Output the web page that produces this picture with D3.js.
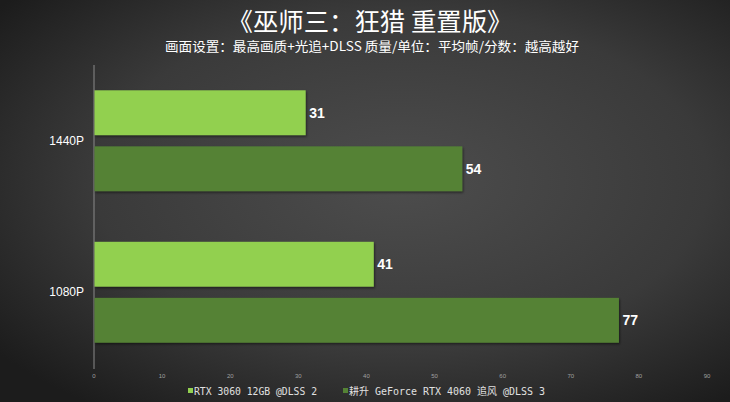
<!DOCTYPE html>
<html><head><meta charset="utf-8">
<script src="https://cdn.jsdelivr.net/npm/d3@7/dist/d3.min.js"></script>
<style>html,body{margin:0;padding:0;background:#2a2a2a;}svg{display:block;}</style>
</head><body><div id="chart"></div>
<script>
const categories = ["1440P", "1080P"];
const seriesNames = ["RTX 3060 12GB @DLSS 2", "耕升 GeForce RTX 4060 追风 @DLSS 3"];
const series1 = [31, 41];
const series2 = [54, 77];
const xTicks = [0, 10, 20, 30, 40, 50, 60, 70, 80, 90];
const title = "《巫师三：狂猎 重置版》";
const subtitle = "画面设置：最高画质+光追+DLSS 质量/单位：平均帧/分数：越高越好";
const colors = ["#92d050", "#548235"];

const W = 730, H = 402;
const svg = d3.select("#chart").append("svg").attr("width", W).attr("height", H);
const defs = svg.append("defs");
const bg = defs.append("radialGradient").attr("id", "bg").attr("cx", "55%").attr("cy", "45%").attr("r", "70%");
bg.append("stop").attr("offset", "0%").attr("stop-color", "#4d4d4d");
bg.append("stop").attr("offset", "60%").attr("stop-color", "#3a3a3a");
bg.append("stop").attr("offset", "100%").attr("stop-color", "#1c1c1c");
svg.append("rect").attr("width", W).attr("height", H).attr("fill", "url(#bg)");
const flt = defs.append("filter").attr("id", "sh").attr("x", "-5%").attr("y", "-20%").attr("width", "110%").attr("height", "140%");
flt.append("feDropShadow").attr("dx", 1).attr("dy", 1.5).attr("stdDeviation", 1.2).attr("flood-color", "#000").attr("flood-opacity", 0.5);

const cjk = "'Noto Sans CJK SC', 'Noto Sans', sans-serif";
svg.append("text").attr("x", 370).attr("y", 31).attr("text-anchor", "middle")
  .attr("font-family", cjk).attr("font-size", 25).attr("fill", "#ffffff")
  .attr("textLength", 285).attr("lengthAdjust", "spacingAndGlyphs").text(title);
svg.append("text").attr("x", 372).attr("y", 51).attr("text-anchor", "middle")
  .attr("font-family", cjk).attr("font-size", 13).attr("fill", "#ffffff")
  .attr("textLength", 414).attr("lengthAdjust", "spacingAndGlyphs").text(subtitle);

const x = d3.scaleLinear().domain([0, 90]).range([94, 707]);
const y = d3.scaleBand().domain(categories).range([65, 368]);
const inner = d3.scaleBand().domain([0, 1]).range([y.bandwidth() * 0.167, y.bandwidth() * 0.833]).paddingInner(0.2);

// axis line
svg.append("line").attr("x1", x(0)).attr("x2", x(0)).attr("y1", 65).attr("y2", 369)
  .attr("stroke", "#8a8a8a").attr("stroke-width", 1);

// x tick labels
svg.append("g").selectAll("text").data(xTicks).join("text")
  .attr("x", d => x(d)).attr("y", 378).attr("text-anchor", "middle")
  .attr("font-family", "Arial, 'Liberation Sans', sans-serif").attr("font-size", 6).attr("fill", "#a0a0a0")
  .text(d => d);

// category labels
svg.append("g").selectAll("text").data(categories).join("text")
  .attr("x", 84).attr("y", d => y(d) + y.bandwidth() / 2 + 4).attr("text-anchor", "end")
  .attr("font-family", "Arial, 'Liberation Sans', sans-serif").attr("font-size", 12).attr("fill", "#ffffff")
  .text(d => d);

const data = [series1, series2];
data.forEach((vals, si) => {
  const g = svg.append("g");
  g.selectAll("rect").data(vals).join("rect")
    .attr("x", x(0) + 0.5).attr("y", (d, i) => y(categories[i]) + inner(si))
    .attr("width", d => x(d) - x(0)).attr("height", inner.bandwidth())
    .attr("fill", colors[si]).attr("filter", "url(#sh)");
  g.selectAll("text").data(vals).join("text")
    .attr("x", d => x(d) + 4).attr("y", (d, i) => y(categories[i]) + inner(si) + inner.bandwidth() / 2 + 5)
    .attr("font-family", "Arial, 'Liberation Sans', sans-serif").attr("font-weight", "bold")
    .attr("font-size", 14).attr("fill", "#ffffff").text(d => d);
});

// legend
const legX = [188, 343];
const legW = [123, 196];
seriesNames.forEach((n, i) => {
  svg.append("rect").attr("x", legX[i]).attr("y", 388).attr("width", 5).attr("height", 5).attr("fill", colors[i]);
  svg.append("text").attr("x", legX[i] + 6).attr("y", 395)
    .attr("font-family", "'DejaVu Sans Mono', " + cjk).attr("font-size", 10).attr("fill", "#e0e0e0")
    .attr("textLength", legW[i]).attr("lengthAdjust", "spacingAndGlyphs").text(n);
});
</script></body></html>
